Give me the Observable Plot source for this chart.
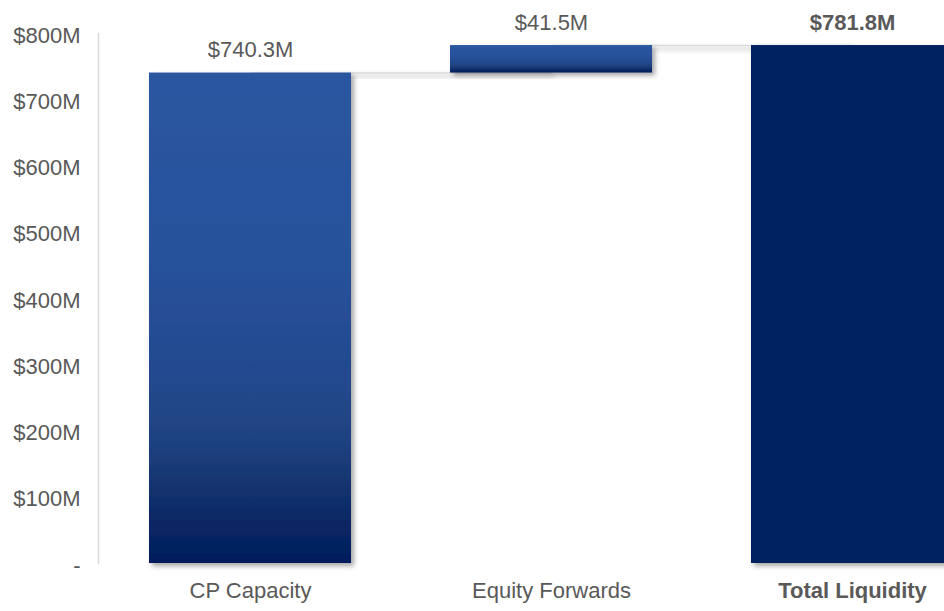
<!DOCTYPE html>
<html><head><meta charset="utf-8">
<script src="https://cdn.jsdelivr.net/npm/d3@7"></script>
<script src="https://cdn.jsdelivr.net/npm/@observablehq/plot@0.6"></script>
<style>
body{margin:0;background:#fff}
#chart{width:944px;height:611px;overflow:hidden}
</style>
</head><body><div id="chart"></div>
<script>
// ---- data ----
const categories = ["CP Capacity", "Equity Forwards", "Total Liquidity"];
const values = [740.3, 41.5, 781.8];
const isTotal = [false, false, true];
const valueLabels = ["$740.3M", "$41.5M", "$781.8M"];
const yTicks = [0, 100, 200, 300, 400, 500, 600, 700, 800];
const yTickLabels = ["-", "$100M", "$200M", "$300M", "$400M", "$500M", "$600M", "$700M", "$800M"];

// ---- waterfall table built from the arrays ----
let run = 0;
const rows = categories.map((c, i) => {
  const start = isTotal[i] ? 0 : run;
  const end = isTotal[i] ? values[i] : run + values[i];
  run = end;
  return {category: c, start, end, total: isTotal[i], label: valueLabels[i]};
});
const links = rows.slice(0, -1).map((r, i) => ({from: r.category, to: rows[i + 1].category, level: r.end}));

const FONT = "'Liberation Sans', Arial, sans-serif";
const TXT = "#595959";

const plot = Plot.plot({
  width: 944,
  height: 611,
  marginTop: 33,
  marginBottom: 48,
  marginLeft: 98,
  marginRight: 0,
  style: {fontFamily: FONT, fontSize: "22px", color: TXT, background: "#fff", overflow: "hidden"},
  x: {type: "band", domain: categories, range: [98.2, 1004], paddingInner: 0.33, paddingOuter: 0.165, axis: null},
  y: {domain: [0, 800], axis: null},
  marks: [
    Plot.frame({anchor: "left", stroke: "#d9d9d9", strokeWidth: 1.5}),
    Plot.axisY(yTicks, {tickSize: 0, tickPadding: 18, dy: 2, fontSize: 22, fill: TXT,
      tickFormat: d => yTickLabels[yTicks.indexOf(d)]}),
    Plot.link(links, {x1: "from", x2: "to", y1: "level", y2: "level", stroke: "#d9d9d9", strokeWidth: 1.6}),
    Plot.barY(rows.filter(d => !d.total), {x: "category", y1: "start", y2: "end", fill: "url(#wfGrad)"}),
    Plot.barY(rows.filter(d => d.total), {x: "category", y1: "start", y2: "end", fill: "#002060"}),
    Plot.text(rows.filter(d => !d.total), {x: "category", y: "end", text: "label", dy: -23, fontSize: 22, fill: TXT}),
    Plot.text(rows.filter(d => d.total), {x: "category", y: "end", text: "label", dy: -23, fontSize: 22, fill: TXT, fontWeight: "bold"}),
    Plot.text(rows.filter(d => !d.total), {x: "category", frameAnchor: "bottom", text: "category", dy: 34, fontSize: 22, fill: TXT}),
    Plot.text(rows.filter(d => d.total), {x: "category", frameAnchor: "bottom", text: "category", dy: 34, fontSize: 22, fill: TXT, fontWeight: "bold"})
  ]
});

// gradient + drop shadow definitions
const svg = d3.select(plot);
const defs = svg.insert("defs", ":first-child");
const g = defs.append("linearGradient").attr("id", "wfGrad").attr("x1", 0).attr("y1", 0).attr("x2", 0).attr("y2", 1);
[[0, "#2A55A0"], [0.4, "#27519B"], [0.6, "#234A8F"], [0.75, "#1F4282"], [0.83, "#163671"], [0.9, "#0C2A66"], [1, "#001D5C"]]
  .forEach(([o, c]) => g.append("stop").attr("offset", o).attr("stop-color", c));
const f = defs.append("filter").attr("id", "wfShadow").attr("x", "-10%").attr("y", "-10%").attr("width", "130%").attr("height", "130%");
f.append("feDropShadow").attr("dx", 3).attr("dy", 3).attr("stdDeviation", 2.5).attr("flood-color", "#000").attr("flood-opacity", 0.35);
svg.selectAll('g[aria-label="bar"]').attr("filter", "url(#wfShadow)");
svg.selectAll('g[aria-label="link"]').attr("filter", "url(#wfShadow)");

document.getElementById("chart").append(plot);
</script>
</body></html>
